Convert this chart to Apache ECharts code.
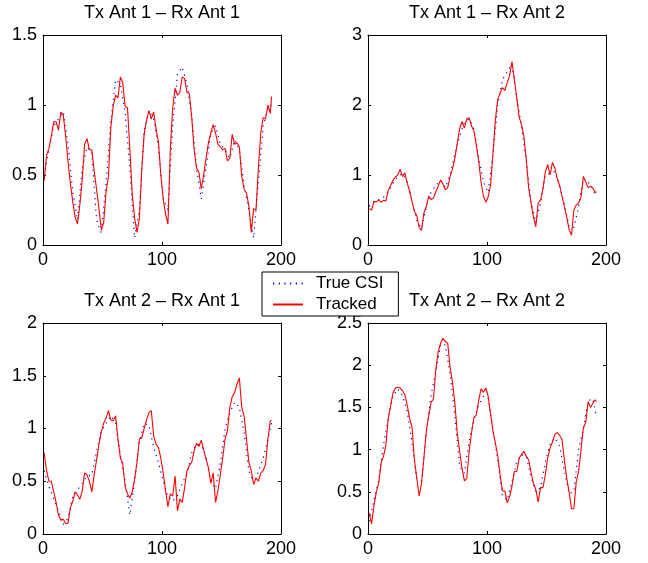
<!DOCTYPE html>
<html>
<head>
<meta charset="utf-8">
<script src="https://cdn.jsdelivr.net/npm/echarts@6/dist/echarts.min.js"></script>
<style>
  html, body { margin: 0; padding: 0; background: #fff; }
  #chart { width: 648px; height: 563px; }
</style>
</head>
<body>
<div id="chart"></div>
<script>
var titles = ['Tx Ant 1 \u2013 Rx Ant 1', 'Tx Ant 1 \u2013 Rx Ant 2', 'Tx Ant 2 \u2013 Rx Ant 1', 'Tx Ant 2 \u2013 Rx Ant 2'];
var yTop = [1.5, 3, 2, 2.5];
var yStep = [0.5, 1, 0.5, 0.5];
var xTicks = [0, 100, 200];

// sample index of each point
var redX = [1,3,5,7,9,11,13,15,17,19,21,23,25,27,29,31,33,35,37,39,41,43,45,47,49,51,53,55,57,59,
  61,63,65,67,69,71,73,75,77,79,81,83,85,87,89,91,93,95,97,99,101,103,105,107,109,111,113,115,117,119,
  121,123,125,127,129,131,133,135,137,139,141,143,145,147,149,151,153,155,157,159,161,163,165,167,169,171,173,175,177,179,
  181,183,185,187,189,191,192];
var blueX = [1,5,9,13,17,21,25,29,33,37,41,45,49,53,57,61,65,69,73,77,81,85,89,93,97,
  101,105,109,113,117,121,125,129,133,137,141,145,149,153,157,161,165,169,173,177,181,185,189,192];

// Tracked (red)
var tracked1 = [0.46,0.64,0.69,0.78,0.88,0.88,0.82,0.95,0.93,0.78,0.60,0.44,0.31,0.20,0.15,0.29,0.47,0.72,0.76,0.68,
  0.68,0.53,0.40,0.26,0.11,0.16,0.38,0.49,0.84,0.99,1.07,1.05,1.20,1.16,0.99,0.98,0.68,0.36,0.19,0.09,
  0.19,0.54,0.79,0.89,0.96,0.90,0.95,0.83,0.74,0.50,0.33,0.22,0.15,0.68,0.98,1.12,1.07,1.09,1.20,1.19,
  1.09,1.08,0.91,0.68,0.55,0.52,0.40,0.50,0.62,0.73,0.80,0.86,0.80,0.72,0.70,0.68,0.69,0.60,0.62,0.79,
  0.72,0.73,0.70,0.49,0.40,0.37,0.28,0.09,0.26,0.25,0.55,0.80,0.91,0.90,1.00,0.94,1.06];
var tracked2 = [0.52,0.50,0.62,0.62,0.64,0.61,0.64,0.63,0.78,0.85,0.92,0.97,1.00,1.08,0.98,1.03,0.88,0.77,0.62,0.48,
  0.42,0.25,0.21,0.46,0.55,0.70,0.65,0.67,0.76,0.84,0.93,0.87,0.79,0.82,0.98,1.08,1.24,1.45,1.66,1.76,
  1.67,1.80,1.82,1.70,1.63,1.43,1.20,0.90,0.70,0.61,0.69,0.85,1.30,1.78,2.08,2.17,2.25,2.21,2.32,2.42,
  2.62,2.36,2.10,1.83,1.72,1.55,1.22,0.82,0.60,0.40,0.26,0.60,0.64,0.80,1.04,1.15,1.00,1.18,1.10,0.95,
  0.85,0.70,0.55,0.40,0.22,0.14,0.50,0.57,0.60,0.68,0.98,0.90,0.82,0.84,0.81,0.75,0.76];
var tracked3 = [0.77,0.60,0.50,0.50,0.40,0.30,0.18,0.13,0.14,0.10,0.10,0.25,0.31,0.40,0.37,0.33,0.41,0.58,0.56,0.50,
  0.40,0.56,0.70,0.85,0.97,1.05,1.10,1.17,1.08,1.07,1.12,0.90,0.72,0.67,0.45,0.38,0.34,0.40,0.52,0.68,
  0.90,0.91,1.00,1.08,1.15,1.17,0.93,0.85,0.82,0.72,0.58,0.41,0.26,0.38,0.36,0.55,0.22,0.33,0.30,0.44,
  0.60,0.65,0.68,0.79,0.86,0.83,0.89,0.80,0.71,0.63,0.48,0.58,0.30,0.41,0.56,0.72,0.90,0.98,1.20,1.30,
  1.34,1.42,1.48,1.20,1.12,0.90,0.68,0.60,0.47,0.53,0.50,0.58,0.60,0.66,0.90,1.07,1.08];
var tracked4 = [0.25,0.12,0.33,0.50,0.60,0.84,0.92,1.05,1.37,1.52,1.67,1.73,1.74,1.73,1.70,1.65,1.52,1.37,1.26,0.88,
  0.66,0.45,0.60,0.90,1.22,1.40,1.56,1.60,1.95,2.16,2.26,2.32,2.28,2.26,1.97,1.80,1.55,1.20,0.98,0.78,
  0.63,0.66,0.98,1.20,1.38,1.41,1.58,1.72,1.68,1.73,1.63,1.42,1.22,1.08,0.93,0.70,0.51,0.51,0.37,0.44,
  0.57,0.74,0.74,0.90,0.94,0.98,0.92,0.88,0.73,0.60,0.53,0.38,0.55,0.55,0.70,0.90,1.02,1.09,1.18,1.20,
  1.17,1.12,0.88,0.66,0.50,0.30,0.30,0.62,0.74,1.00,1.26,1.32,1.57,1.50,1.55,1.59,1.57];

// True CSI (blue dotted)
var trueCsi1 = [0.50,0.68,0.85,0.90,0.95,0.72,0.38,0.18,0.55,0.70,0.66,0.18,0.08,0.45,0.88,1.18,1.15,0.95,0.55,0.05,
  0.25,0.82,0.96,0.90,0.70,0.33,0.25,0.85,1.22,1.27,1.15,0.92,0.55,0.33,0.55,0.80,0.85,0.72,0.68,0.62,
  0.75,0.68,0.42,0.25,0.05,0.45,0.85,0.98,1.00];
var trueCsi2 = [0.55,0.62,0.65,0.68,0.76,0.88,0.98,1.02,0.90,0.62,0.35,0.24,0.55,0.75,0.85,0.92,0.82,1.00,1.30,1.55,
  1.75,1.80,1.66,1.25,0.90,0.75,1.30,2.00,2.36,2.48,2.58,2.10,1.70,1.20,0.62,0.32,0.60,1.00,1.02,1.05,
  0.85,0.58,0.26,0.25,0.55,0.95,0.90,0.80,0.68];
var trueCsi3 = [0.60,0.45,0.33,0.22,0.09,0.15,0.35,0.42,0.48,0.55,0.56,0.78,0.98,1.05,1.12,1.05,0.75,0.50,0.18,0.50,
  0.88,1.05,1.03,0.82,0.68,0.50,0.35,0.31,0.36,0.48,0.57,0.77,0.85,0.84,0.73,0.50,0.43,0.67,1.00,1.15,
  1.25,1.20,0.96,0.60,0.48,0.59,0.72,0.90,1.05];
var trueCsi4 = [0.15,0.40,0.64,1.05,1.37,1.63,1.72,1.64,1.45,1.08,0.65,0.63,1.20,1.65,1.92,2.25,2.24,1.90,1.40,0.80,
  0.72,1.10,1.35,1.53,1.63,1.61,1.25,0.88,0.45,0.40,0.62,0.85,0.94,0.92,0.68,0.50,0.55,0.85,1.06,1.14,
  1.04,0.75,0.48,0.50,1.00,1.25,1.58,1.60,1.38];

var trackedAll = [tracked1, tracked2, tracked3, tracked4];
var trueAll = [trueCsi1, trueCsi2, trueCsi3, trueCsi4];

function pairs(xs, ys) {
  return xs.map(function(x, i) { return [x, ys[i]]; });
}

var font = "'Liberation Sans', Arial, Helvetica, sans-serif";
var grids = [
  { left: 43, top: 35, width: 238, height: 210 },
  { left: 368, top: 35, width: 238, height: 210 },
  { left: 43, top: 323, width: 238, height: 211 },
  { left: 368, top: 323, width: 238, height: 211 }
];

var xAxes = [], yAxes = [], series = [], titleOpts = [];
function axisBase(showLabel) {
  return {
    axisLine: { show: true, onZero: false, lineStyle: { color: '#000', width: 1 } },
    axisTick: { show: true, inside: true, length: 3, lineStyle: { color: '#000' } },
    axisLabel: { show: showLabel, color: '#000', fontSize: 18, fontFamily: font, margin: 6 },
    splitLine: { show: false }
  };
}
for (var i = 0; i < 4; i++) {
  ['bottom', 'top'].forEach(function(pos) {
    xAxes.push(Object.assign(axisBase(pos === 'bottom'), {
      type: 'value', gridIndex: i, position: pos,
      min: xTicks[0], max: xTicks[xTicks.length - 1], interval: xTicks[1] - xTicks[0]
    }));
  });
  ['left', 'right'].forEach(function(pos) {
    yAxes.push(Object.assign(axisBase(pos === 'left'), {
      type: 'value', gridIndex: i, position: pos,
      min: 0, max: yTop[i], interval: yStep[i]
    }));
  });
  series.push({
    type: 'line', name: 'True CSI', xAxisIndex: i * 2, yAxisIndex: i * 2,
    data: pairs(blueX, trueAll[i]), symbol: 'none', silent: true,
    lineStyle: { color: '#0000ff', width: 1.2, type: [1.2, 4.5] },
    itemStyle: { color: '#0000ff' }
  });
  series.push({
    type: 'line', name: 'Tracked', xAxisIndex: i * 2, yAxisIndex: i * 2,
    data: pairs(redX, trackedAll[i]), symbol: 'none', silent: true,
    lineStyle: { color: '#ff0000', width: 1.1 },
    itemStyle: { color: '#ff0000' }
  });
  titleOpts.push({
    text: titles[i],
    left: grids[i].left + grids[i].width / 2,
    top: grids[i].top - 31,
    textAlign: 'center',
    padding: 0,
    textStyle: { fontSize: 18, fontWeight: 'normal', color: '#000', fontFamily: font }
  });
}

var chart = echarts.init(document.getElementById('chart'));
chart.setOption({
  animation: false,
  backgroundColor: '#fff',
  title: titleOpts,
  grid: grids,
  xAxis: xAxes,
  yAxis: yAxes,
  legend: {
    data: ['True CSI', 'Tracked'],
    orient: 'vertical',
    left: 262,
    top: 272,
    backgroundColor: '#fff',
    borderColor: '#000',
    borderWidth: 1,
    borderRadius: 0,
    padding: [3, 15, 3, 10],
    itemWidth: 30,
    itemHeight: 14,
    itemGap: 4,
    itemStyle: { color: 'rgba(0,0,0,0)', borderWidth: 0, opacity: 0 },
    textStyle: { fontSize: 17, color: '#000', fontFamily: font, padding: [0, 0, 0, 8] }
  },
  series: series
});
</script>
</body>
</html>
